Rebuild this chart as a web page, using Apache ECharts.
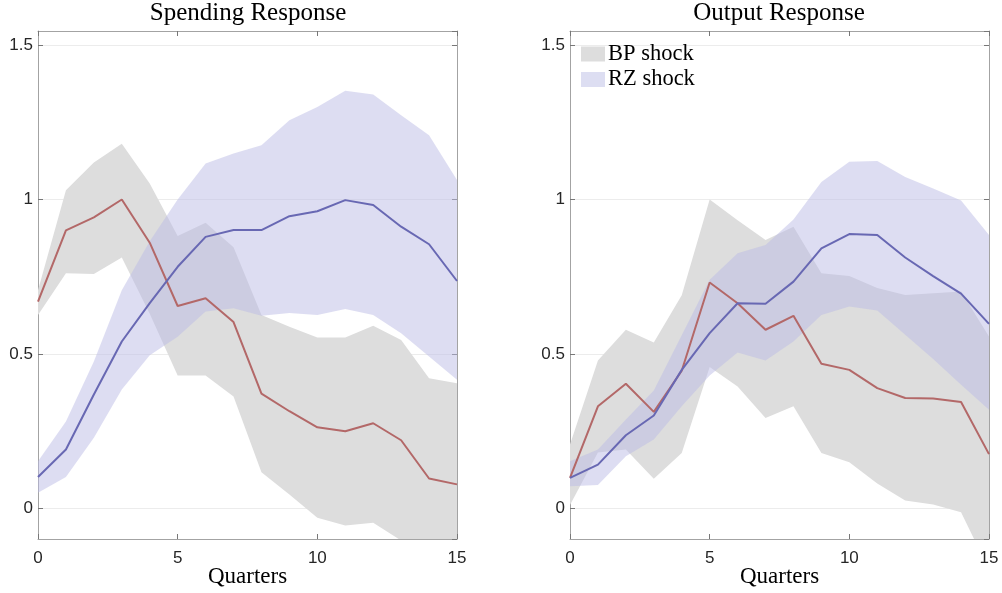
<!DOCTYPE html>
<html>
<head>
<meta charset="utf-8">
<script src="https://cdn.jsdelivr.net/npm/echarts@6/dist/echarts.min.js"></script>
<style>
html,body{margin:0;padding:0;background:#fff;}
#chart{width:1002px;height:593px;}
</style>
</head>
<body>
<div id="chart"></div>
<script>
// ---- data (x = quarters 0..15) ----
var quarters = [0,1,2,3,4,5,6,7,8,9,10,11,12,13,14,15];
var xTicks = [0,5,10,15];
var yTicks = [0,0.5,1,1.5];

// Spending response
var bpSpend   = [0.669,0.900,0.942,1.000,0.860,0.655,0.680,0.603,0.371,0.314,0.262,0.249,0.275,0.220,0.096,0.077];
var bpSpendLo = [0.626,0.761,0.759,0.812,0.630,0.430,0.430,0.362,0.116,0.044,-0.031,-0.056,-0.047,-0.105,-0.220,-0.300];
var bpSpendHi = [0.706,1.030,1.120,1.181,1.052,0.882,0.925,0.845,0.626,0.588,0.553,0.553,0.591,0.545,0.421,0.405];
var rzSpend   = [0.101,0.190,0.368,0.540,0.664,0.782,0.879,0.901,0.901,0.946,0.962,0.998,0.982,0.912,0.855,0.736];
var rzSpendLo = [0.050,0.101,0.228,0.384,0.495,0.555,0.637,0.648,0.623,0.632,0.626,0.645,0.626,0.567,0.491,0.416];
var rzSpendHi = [0.152,0.281,0.475,0.706,0.865,1.000,1.117,1.149,1.176,1.257,1.300,1.352,1.340,1.273,1.208,1.063];

// Output response
var bpOut   = [0.098,0.330,0.403,0.312,0.445,0.731,0.664,0.578,0.623,0.468,0.448,0.389,0.357,0.355,0.344,0.175];
var bpOutLo = [0.010,0.180,0.190,0.095,0.179,0.457,0.394,0.292,0.330,0.179,0.149,0.080,0.025,0.012,-0.013,-0.200];
var bpOutHi = [0.206,0.478,0.578,0.537,0.690,1.000,0.933,0.869,0.912,0.761,0.752,0.713,0.691,0.696,0.702,0.556];
var rzOut   = [0.098,0.141,0.236,0.300,0.448,0.567,0.664,0.662,0.734,0.842,0.888,0.885,0.812,0.752,0.695,0.597];
var rzOutLo = [0.071,0.075,0.168,0.222,0.330,0.430,0.504,0.478,0.540,0.626,0.653,0.640,0.562,0.483,0.400,0.319];
var rzOutHi = [0.152,0.190,0.287,0.381,0.560,0.740,0.826,0.853,0.935,1.057,1.122,1.125,1.073,1.036,0.997,0.885];

var titles = ['Spending Response','Output Response'];
var xLabel = 'Quarters';
var legendNames = ['BP shock','RZ shock'];

// ---- styles ----
var SERIF = "'Liberation Serif', 'Times New Roman', serif";
var SANS = "'Liberation Sans', Arial, sans-serif";
var GRAY_FILL = 'rgb(221,221,221)';
var BLUE_FILL = 'rgba(187,188,229,0.5)';
var RED_LINE = 'rgb(179,104,104)';
var BLUE_LINE = 'rgb(104,104,179)';
var AXIS_COL = '#a3a3a3';
var YMIN = -0.1, YMAX = 1.546;

function pairs(arr){ return quarters.map(function(q,i){ return [q, arr[i]]; }); }

var grids = [
  {left:38, top:31, width:419, height:508, containLabel:false, outerBoundsMode:'none'},
  {left:570, top:31, width:419, height:508, containLabel:false, outerBoundsMode:'none'}
];

var xAxes = [], yAxes = [], series = [];
[0,1].forEach(function(g){
  xAxes.push({
    type:'value', gridIndex:g, position:'bottom', min:0, max:15, interval:5,
    axisLine:{show:true, onZero:false, lineStyle:{color:AXIS_COL, width:1}},
    axisTick:{show:true, inside:true, length:5, lineStyle:{color:'#777'}},
    axisLabel:{show:true, margin:11, fontFamily:SANS, fontSize:17, color:'#262626'},
    splitLine:{show:false},
    name:xLabel, nameLocation:'middle', nameGap:26, nameMoveOverlap:false,
    nameTextStyle:{fontFamily:SERIF, fontSize:23, color:'#000'}
  });
  xAxes.push({
    type:'value', gridIndex:g, position:'top', min:0, max:15, interval:5,
    axisLine:{show:true, onZero:false, lineStyle:{color:AXIS_COL, width:1}},
    axisTick:{show:true, inside:true, length:5, lineStyle:{color:'#777'}},
    axisLabel:{show:false}, splitLine:{show:false}
  });
  yAxes.push({
    type:'value', gridIndex:g, position:'left', min:YMIN, max:YMAX, splitNumber:3,
    axisLine:{show:true, onZero:false, lineStyle:{color:AXIS_COL, width:1}},
    axisTick:{show:true, inside:true, length:5, lineStyle:{color:'#777'}},
    axisLabel:{show:true, margin:5, fontFamily:SANS, fontSize:17, color:'#262626',
      showMinLabel:false, showMaxLabel:false,
      formatter:function(v){ var r = Math.round(v*100)/100; return yTicks.indexOf(r) >= 0 ? String(r) : ''; }},
    splitLine:{show:true, lineStyle:{color:'#ececec', width:1}}
  });
  yAxes.push({
    type:'value', gridIndex:g, position:'right', min:YMIN, max:YMAX, splitNumber:3,
    axisLine:{show:true, onZero:false, lineStyle:{color:AXIS_COL, width:1}},
    axisTick:{show:true, inside:true, length:5, lineStyle:{color:'#777'}},
    axisLabel:{show:false}, splitLine:{show:false}
  });
});

function bandSeries(name, g, lo, hi, color){
  return {
    type:'custom', name:name, xAxisIndex:g*2, yAxisIndex:g*2, silent:true, animation:false,
    itemStyle:{color:color},
    data:[[quarters[0], lo[0]]],
    renderItem:function(params, api){
      var pts = [];
      for (var i=0;i<quarters.length;i++) pts.push(api.coord([quarters[i], hi[i]]));
      for (var j=quarters.length-1;j>=0;j--) pts.push(api.coord([quarters[j], lo[j]]));
      var cs = params.coordSys;
      return {
        type:'polygon', shape:{points:pts}, style:{fill:color, stroke:null},
        clipPath:{type:'rect', shape:{x:cs.x, y:cs.y, width:cs.width, height:cs.height}}
      };
    }
  };
}
function lineSeries(name, g, arr, color){
  return {type:'line', name:name, xAxisIndex:g*2, yAxisIndex:g*2, symbol:'none', silent:true,
    animation:false, data:pairs(arr), lineStyle:{color:color, width:2}, itemStyle:{color:color}, z:5};
}

series.push(bandSeries(legendNames[0], 0, bpSpendLo, bpSpendHi, GRAY_FILL));
series.push(bandSeries(legendNames[1], 0, rzSpendLo, rzSpendHi, BLUE_FILL));
series.push(lineSeries('bpSpend', 0, bpSpend, RED_LINE));
series.push(lineSeries('rzSpend', 0, rzSpend, BLUE_LINE));
series.push(bandSeries(legendNames[0], 1, bpOutLo, bpOutHi, GRAY_FILL));
series.push(bandSeries(legendNames[1], 1, rzOutLo, rzOutHi, BLUE_FILL));
series.push(lineSeries('bpOut', 1, bpOut, RED_LINE));
series.push(lineSeries('rzOut', 1, rzOut, BLUE_LINE));

var chart = echarts.init(document.getElementById('chart'), null, {renderer:'canvas'});
chart.setOption({
  animation:false,
  backgroundColor:'#fff',
  grid:grids,
  xAxis:xAxes,
  yAxis:yAxes,
  series:series,
  legend:{
    show:true, orient:'vertical', left:576, top:37, icon:'rect',
    itemWidth:24, itemHeight:15, itemGap:1.5, selectedMode:false,
    textStyle:{fontFamily:SERIF, fontSize:22.5, lineHeight:24, color:'#000', padding:[0,0,0,-2]},
    data:[
      {name:legendNames[0], itemStyle:{color:GRAY_FILL}},
      {name:legendNames[1], itemStyle:{color:'rgb(221,222,242)'}}
    ]
  },
  graphic:[
    {type:'text', x:248, y:13, style:{text:titles[0], font:"25px " + SERIF, fill:'#000', textAlign:'center', textVerticalAlign:'middle'}},
    {type:'text', x:779, y:13, style:{text:titles[1], font:"25px " + SERIF, fill:'#000', textAlign:'center', textVerticalAlign:'middle'}}
  ]
});
</script>
</body>
</html>
